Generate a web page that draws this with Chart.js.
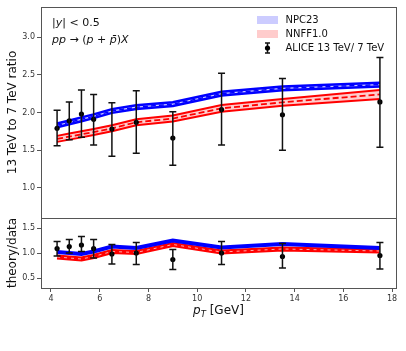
<!DOCTYPE html>
<html>
<head>
<meta charset="utf-8">
<script src="https://cdn.jsdelivr.net/npm/chart.js@4"></script>
<style>
html, body { margin: 0; padding: 0; background: #fff; }
</style>
</head>
<body>
<canvas id="ctx" width="406" height="351"></canvas>
<script>
// pT bins (GeV)
var pt = [4.25, 4.75, 5.25, 5.75, 6.5, 7.5, 9, 11, 13.5, 17.5];

// NPC23 band, 13/7 ratio
var npcLo  = [1.805, 1.845, 1.885, 1.925, 1.995, 2.045, 2.085, 2.225, 2.295, 2.345];
var npcMid = [1.83, 1.87, 1.91, 1.95, 2.02, 2.07, 2.11, 2.25, 2.32, 2.37];
var npcHi  = [1.855, 1.895, 1.935, 1.975, 2.045, 2.095, 2.135, 2.275, 2.345, 2.395];

// NNFF1.0 band, 13/7 ratio
var nnLo  = [1.61, 1.64, 1.67, 1.70, 1.75, 1.83, 1.88, 2.01, 2.09, 2.18];
var nnMid = [1.65, 1.68, 1.71, 1.74, 1.79, 1.87, 1.92, 2.055, 2.135, 2.24];
var nnHi  = [1.69, 1.72, 1.75, 1.78, 1.83, 1.91, 1.96, 2.10, 2.18, 2.30];

// ALICE 13 TeV / 7 TeV
var alice   = [1.79, 1.89, 1.98, 1.91, 1.78, 1.87, 1.66, 2.04, 1.97, 2.14];
var aliceHi = [2.03, 2.14, 2.30, 2.24, 2.13, 2.29, 2.01, 2.52, 2.45, 2.73];
var aliceLo = [1.56, 1.64, 1.67, 1.57, 1.42, 1.46, 1.30, 1.57, 1.50, 1.54];

// theory/data panel
var npcRatio = [1.02, 1.00, 0.98, 1.03, 1.13, 1.10, 1.25, 1.11, 1.18, 1.10];
var nnRatio  = [0.92, 0.90, 0.88, 0.93, 1.03, 1.01, 1.17, 1.02, 1.08, 1.04];
var dataRatio   = [1.09, 1.13, 1.16, 1.09, 0.98, 1.00, 0.87, 1.00, 0.93, 0.95];
var dataRatioHi = [1.23, 1.27, 1.33, 1.27, 1.17, 1.21, 1.07, 1.23, 1.19, 1.21];
var dataRatioLo = [0.94, 1.00, 1.03, 0.90, 0.78, 0.77, 0.67, 0.77, 0.70, 0.68];

var xTicks = [4, 6, 8, 10, 12, 14, 16, 18];
var yTicks = [1.0, 1.5, 2.0, 2.5, 3.0];
var y2Ticks = [0.5, 1.0, 1.5];

var legendLabels = ['NPC23', 'NNFF1.0', 'ALICE 13 TeV/ 7 TeV'];

var FONT = 'DejaVu Sans';
Chart.defaults.font.family = FONT;

function pts(arr) {
    return pt.map(function (x, i) { return { x: x, y: arr[i] }; });
}

function line(arr, axis, color, width, extra) {
    var d = {
        data: pts(arr),
        yAxisID: axis,
        borderColor: color,
        borderWidth: width,
        pointRadius: 0,
        fill: false,
        tension: 0
    };
    for (var k in extra) d[k] = extra[k];
    return d;
}

var blue = '#0000ff';
var red = '#ff0000';

var datasets = [
    // points on top
    { data: pts(alice), yAxisID: 'y', showLine: false, pointRadius: 2.6, pointBackgroundColor: '#000', pointBorderWidth: 0, order: 0 },
    { data: pts(dataRatio), yAxisID: 'y2', showLine: false, pointRadius: 2.6, pointBackgroundColor: '#000', pointBorderWidth: 0, order: 0 },
    // NPC23 band
    line(npcLo, 'y', blue, 2.5, { order: 3 }),
    line(npcHi, 'y', blue, 2.5, { order: 3, fill: '-1', backgroundColor: 'rgba(0,0,255,0.2)' }),
    line(npcMid, 'y', blue, 1.5, { order: 2, borderDash: [5, 3] }),
    // NNFF1.0 band
    line(nnLo, 'y', red, 2, { order: 3 }),
    line(nnHi, 'y', red, 2, { order: 3, fill: '-1', backgroundColor: 'rgba(255,0,0,0.2)' }),
    line(nnMid, 'y', red, 1.8, { order: 2, borderDash: [6, 3] }),
    // ratios
    line(npcRatio, 'y2', blue, 4, { order: 2 }),
    line(nnRatio, 'y2', red, 5, { order: 3 }),
    line(nnRatio, 'y2', 'rgba(255,190,190,0.9)', 1, { order: 1, borderDash: [3, 4] })
];

function drawErr(c, xs, ys, vals, his, los) {
    c.save();
    c.strokeStyle = '#111';
    c.lineWidth = 1.5;
    for (var i = 0; i < vals.length; i++) {
        var px = xs.getPixelForValue(pt[i]);
        var top = ys.getPixelForValue(his[i]);
        var bot = ys.getPixelForValue(los[i]);
        c.beginPath();
        c.moveTo(px, top); c.lineTo(px, bot);
        c.moveTo(px - 3.5, top); c.lineTo(px + 3.5, top);
        c.moveTo(px - 3.5, bot); c.lineTo(px + 3.5, bot);
        c.stroke();
    }
    c.restore();
}

function drawParts(c, parts, x, y) {
    parts.forEach(function (p) {
        c.font = p[1];
        c.fillText(p[0], x, y + (p[2] || 0));
        x += c.measureText(p[0]).width;
    });
    return x;
}

function partsWidth(c, parts) {
    var w = 0;
    parts.forEach(function (p) { c.font = p[1]; w += c.measureText(p[0]).width; });
    return w;
}

var decor = {
    id: 'decor',
    afterDatasetsDraw: function (chart) {
        var c = chart.ctx;
        var xs = chart.scales.x;
        drawErr(c, xs, chart.scales.y, alice, aliceHi, aliceLo);
        drawErr(c, xs, chart.scales.y2, dataRatio, dataRatioHi, dataRatioLo);
    },
    afterDraw: function (chart) {
        var c = chart.ctx;
        var a = chart.chartArea;
        var up = '11px "' + FONT + '"';
        var it = 'italic 11px "' + FONT + '"';
        var top = chart.scales.y.top;

        // frames
        c.save();
        c.strokeStyle = '#555';
        c.lineWidth = 1;
        ['y', 'y2'].forEach(function (id) {
            var s = chart.scales[id];
            c.strokeRect(Math.round(a.left) + 0.5, Math.round(s.top) + 0.5,
                Math.round(a.right - a.left), Math.round(s.bottom - s.top));
        });
        c.restore();

        // labels in the top panel
        c.save();
        c.fillStyle = '#111';
        c.textBaseline = 'alphabetic';
        drawParts(c, [['|', up], ['y', it], ['| < 0.5', up]], a.left + 11, top + 18.5);
        drawParts(c, [['pp', it], [' \u2192 (', up], ['p', it], [' + ', up], ['p\u0304', it], [')', up], ['X', it]], a.left + 11, top + 36);

        // legend
        var lx = 257, tx = 285.5;
        var rows = [top + 13, top + 27, top + 41];
        c.fillStyle = 'rgba(0,0,255,0.2)';
        c.fillRect(lx, rows[0] - 4, 21, 8);
        c.fillStyle = 'rgba(255,0,0,0.2)';
        c.fillRect(lx, rows[1] - 4, 21, 8);
        c.strokeStyle = '#111';
        c.lineWidth = 1.5;
        c.beginPath();
        c.moveTo(lx + 10.5, rows[2] - 5); c.lineTo(lx + 10.5, rows[2] + 5);
        c.moveTo(lx + 8, rows[2] - 5); c.lineTo(lx + 13, rows[2] - 5);
        c.moveTo(lx + 8, rows[2] + 5); c.lineTo(lx + 13, rows[2] + 5);
        c.stroke();
        c.fillStyle = '#000';
        c.beginPath();
        c.arc(lx + 10.5, rows[2], 2.6, 0, Math.PI * 2);
        c.fill();
        c.fillStyle = '#111';
        c.font = '10px "' + FONT + '"';
        c.textBaseline = 'middle';
        legendLabels.forEach(function (t, i) { c.fillText(t, tx, rows[i]); });

        // x title
        c.textBaseline = 'alphabetic';
        var xt = [['p', 'italic 12px "' + FONT + '"'], ['T', 'italic 8.5px "' + FONT + '"', 2.5], [' [GeV]', '12px "' + FONT + '"']];
        var w = partsWidth(c, xt);
        drawParts(c, xt, (a.left + a.right) / 2 - w / 2, a.bottom + 26);
        c.restore();
    }
};

var tickFont = { size: 8 };

new Chart(document.getElementById('ctx'), {
    type: 'line',
    data: { datasets: datasets },
    options: {
        responsive: false,
        animation: false,
        layout: { padding: { left: 0, top: 7, right: 10, bottom: 0 } },
        plugins: { legend: { display: false }, tooltip: { enabled: false } },
        scales: {
            x: {
                type: 'linear',
                min: 3.59,
                max: 18.16,
                afterBuildTicks: function (s) { s.ticks = xTicks.map(function (v) { return { value: v }; }); },
                ticks: { font: tickFont, color: '#333', padding: 2, maxRotation: 0, callback: function (v) { return String(v); } },
                grid: { drawOnChartArea: false, tickLength: 4, color: '#555' },
                border: { color: '#555' },
                afterFit: function (s) { s.height = 63; }
            },
            y2: {
                type: 'linear',
                position: 'left',
                stack: 'panels',
                stackWeight: 70,
                min: 0.3,
                max: 1.7,
                afterBuildTicks: function (s) { s.ticks = y2Ticks.map(function (v) { return { value: v }; }); },
                ticks: { font: tickFont, color: '#333', padding: 2, callback: function (v) { return v.toFixed(1); } },
                grid: { drawOnChartArea: false, tickLength: 4, color: '#555' },
                border: { color: '#555' },
                title: { display: true, text: 'theory/data', font: { size: 12 }, color: '#111', padding: { top: 6, bottom: 0 } },
                afterFit: function (s) { s.width = 41; }
            },
            y: {
                type: 'linear',
                position: 'left',
                stack: 'panels',
                stackWeight: 211,
                min: 0.6,
                max: 3.4,
                afterBuildTicks: function (s) { s.ticks = yTicks.map(function (v) { return { value: v }; }); },
                ticks: { font: tickFont, color: '#333', padding: 2, callback: function (v) { return v.toFixed(1); } },
                grid: { drawOnChartArea: false, tickLength: 4, color: '#555' },
                border: { color: '#555' },
                title: { display: true, text: '13 TeV to 7 TeV ratio', font: { size: 12 }, color: '#111', padding: { top: 6, bottom: 0 } },
                afterFit: function (s) { s.width = 41; }
            }
        }
    },
    plugins: [decor]
});
</script>
</body>
</html>
